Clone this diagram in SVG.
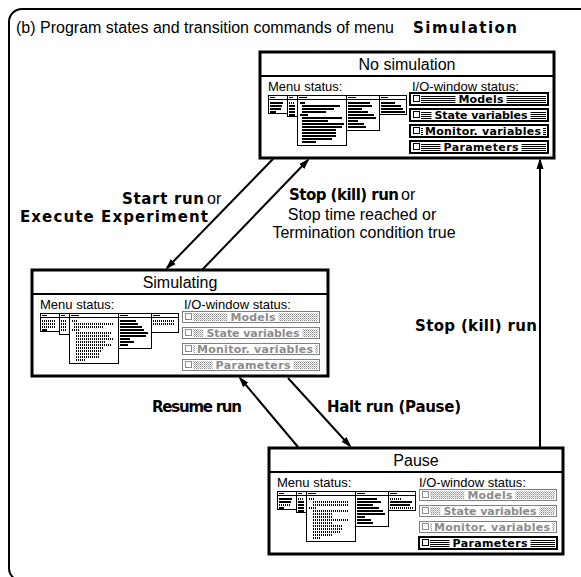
<svg xmlns="http://www.w3.org/2000/svg" width="581" height="577" viewBox="0 0 581 577">
<style>
.frame{fill:none;stroke:#000;stroke-width:2}
.box{fill:#fff;stroke:#000;stroke-width:3}
.div{stroke:#000;stroke-width:2}
.title{font-family:"Liberation Sans",Arial,sans-serif;font-size:16px;text-anchor:middle}
.sub{font-family:"Liberation Sans",Arial,sans-serif;font-size:13px}
.win{fill:#fff;stroke:#000;stroke-width:1}
.bar{fill:none;stroke:#000;stroke-width:2}
.dot{fill:none;stroke:#000;stroke-width:2;stroke-dasharray:1 1}
.on{fill:#fff;stroke:#000;stroke-width:2}
.off{fill:#fff;stroke:#000;stroke-width:1;stroke-dasharray:1 1}
.str{fill:url(#stripes)}
.dit{fill:url(#dither)}
.bg{fill:#fff}
.bt{font-family:"DejaVu Sans",Verdana,sans-serif;font-weight:bold;font-size:11px;text-anchor:middle}
.g{fill:#8c8c8c}
.cb{fill:#fff;stroke:#000;stroke-width:1}
.cbg{fill:#fff;stroke:#8c8c8c;stroke-width:1}
.conn{stroke:#000;stroke-width:2;fill:none;marker-end:url(#ah)}
.lb{font-family:"DejaVu Sans",Verdana,sans-serif;font-weight:bold;font-size:15px}
.lr{font-family:"Liberation Sans",Arial,sans-serif;font-size:16px}
</style>
<defs>
<marker id="ah" markerUnits="userSpaceOnUse" markerWidth="11" markerHeight="8" refX="9" refY="4" orient="auto"><path d="M0,0.5 L11,4 L0,7.5 z" fill="#000"/></marker>
<pattern id="stripes" width="2" height="2" patternUnits="userSpaceOnUse"><rect width="2" height="1" fill="#000"/></pattern>
<pattern id="dither" width="2" height="2" patternUnits="userSpaceOnUse"><rect width="1" height="1" fill="#888"/><rect x="1" y="1" width="1" height="1" fill="#bbb"/></pattern>
<g id="wins">
<rect class="win" x="8.5" y="43.5" width="19" height="18"/>
<rect class="win" x="27.5" y="43.5" width="10" height="21"/>
<rect class="win" x="37.5" y="43.5" width="49" height="50"/>
<rect class="win" x="86.5" y="43.5" width="33" height="35"/>
<rect class="win" x="119.5" y="43.5" width="27" height="19"/>
<path d="M8.5 47.5H146.5M10 45.5h5M29 45.5h4M39 45.5h8M88 45.5h8M121 45.5h7" stroke="#000" fill="none"/>
</g>
</defs>

<rect class="frame" x="9" y="9" width="600" height="572" rx="13"/>
<text x="16" y="33" class="lr">(b) Program states and transition commands of menu</text>
<text x="413" y="33" class="lb" font-size="16" textLength="104" lengthAdjust="spacing">Simulation</text>

<g id="connectors">
<line class="conn" x1="273" y1="159" x2="167" y2="268"/>
<line class="conn" x1="202" y1="270" x2="308" y2="160"/>
<line class="conn" x1="288" y1="378" x2="350" y2="446"/>
<line class="conn" x1="298" y1="447" x2="240" y2="378"/>
<line class="conn" x1="540" y1="447" x2="540" y2="160"/>
</g>

<g id="labels">
<text x="122" y="204" class="lb" textLength="82" lengthAdjust="spacing">Start run</text>
<text x="207" y="204" class="lr">or</text>
<text x="20" y="222" class="lb" textLength="188" lengthAdjust="spacing">Execute Experiment</text>
<text x="289" y="200" class="lb" textLength="110" lengthAdjust="spacing">Stop (kill) run</text>
<text x="401" y="200" class="lr">or</text>
<text x="362" y="220" class="lr" text-anchor="middle">Stop time reached or</text>
<text x="364" y="238" class="lr" text-anchor="middle">Termination condition true</text>
<text x="415" y="331" class="lb" textLength="122" lengthAdjust="spacing">Stop (kill) run</text>
<text x="152" y="412" class="lb" textLength="90" lengthAdjust="spacing">Resume run</text>
<text x="327" y="412" class="lb" textLength="134" lengthAdjust="spacing">Halt run (Pause)</text>
</g>

<g id="no-simulation" transform="translate(260,52)">
<rect class="box" x="0" y="0" width="294" height="106"/>
<line class="div" x1="0" y1="24" x2="294" y2="24"/>
<text class="title" x="147" y="18">No simulation</text>
<text class="sub" x="8" y="39">Menu status:</text>
<text class="sub" x="152" y="39">I/O-window status:</text>
<use href="#wins"/>
<path class="bar" d="M10 51h13M10 54h12M10 57h11M10 60h6M29 54h6M29 57h6M29 60h6M29 63h6M40 51h5M42 54h38M42 57h32M42 60h24M40 63h8M42 66h40M42 69h26M42 72h42M42 75h40M42 78h34M42 81h34M42 84h34M42 87h30M42 90h14M88 51h22M88 54h24M88 57h14M88 60h20M88 63h26M88 66h28M88 69h10M88 72h16M88 75h18M121 51h14M121 54h20M121 57h22M121 60h24"/>
<path class="dot" d="M29 51h6"/>
<g>
<rect class="on" x="150" y="41" width="138" height="12"/>
<rect class="str" x="161" y="43" width="125" height="8"/>
<rect class="bg" x="195.5" y="42" width="51" height="10"/>
<text class="bt" x="221" y="51" textLength="45" lengthAdjust="spacing">Models</text>
<rect class="cb" x="153.5" y="43.5" width="6" height="6"/>
</g>
<g>
<rect class="on" x="150" y="57" width="138" height="12"/>
<rect class="str" x="161" y="59" width="125" height="8"/>
<rect class="bg" x="171.5" y="58" width="99" height="10"/>
<text class="bt" x="221" y="67" textLength="93" lengthAdjust="spacing">State variables</text>
<rect class="cb" x="153.5" y="59.5" width="6" height="6"/>
</g>
<g>
<rect class="on" x="150" y="73" width="138" height="12"/>
<rect class="str" x="161" y="75" width="125" height="8"/>
<rect class="bg" x="163" y="74" width="120" height="10"/>
<text class="bt" x="223" y="83" textLength="116" lengthAdjust="spacing">Monitor. variables</text>
<rect class="cb" x="153.5" y="75.5" width="6" height="6"/>
</g>
<g>
<rect class="on" x="150" y="89" width="138" height="12"/>
<rect class="str" x="161" y="91" width="125" height="8"/>
<rect class="bg" x="180.5" y="90" width="81" height="10"/>
<text class="bt" x="221" y="99" textLength="75" lengthAdjust="spacing">Parameters</text>
<rect class="cb" x="153.5" y="91.5" width="6" height="6"/>
</g>
</g>

<g id="simulating" transform="translate(32,270)">
<rect class="box" x="0" y="0" width="296" height="106"/>
<line class="div" x1="0" y1="24" x2="296" y2="24"/>
<text class="title" x="148" y="18">Simulating</text>
<text class="sub" x="8" y="39">Menu status:</text>
<text class="sub" x="152" y="39">I/O-window status:</text>
<use href="#wins"/>
<path class="dot" d="M10 51h13M10 54h13M10 57h13M29 51h6M29 54h6M29 57h6M29 60h6M40 51h6M42 54h40M42 57h30M40 60h8M44 63h36M44 66h34M44 69h38M44 72h30M44 75h36M44 78h28M44 81h26M44 84h24M44 87h24M44 90h10M121 51h22M121 54h22"/>
<path class="bar" d="M10 60h5M88 51h16M88 54h18M88 57h22M88 60h24M88 63h28M88 66h26M88 69h10M88 72h14M88 75h8"/>
<g>
<rect class="off" x="150.5" y="41.5" width="137" height="11"/>
<rect class="dit" x="161" y="43" width="125" height="8"/>
<rect class="bg" x="195.5" y="42" width="51" height="10"/>
<text class="bt g" x="221" y="51" textLength="45" lengthAdjust="spacing">Models</text>
<rect class="cbg" x="153.5" y="43.5" width="6" height="6"/>
</g>
<g>
<rect class="off" x="150.5" y="57.5" width="137" height="11"/>
<rect class="dit" x="161" y="59" width="125" height="8"/>
<rect class="bg" x="171.5" y="58" width="99" height="10"/>
<text class="bt g" x="221" y="67" textLength="93" lengthAdjust="spacing">State variables</text>
<rect class="cbg" x="153.5" y="59.5" width="6" height="6"/>
</g>
<g>
<rect class="off" x="150.5" y="73.5" width="137" height="11"/>
<rect class="dit" x="161" y="75" width="125" height="8"/>
<rect class="bg" x="163" y="74" width="120" height="10"/>
<text class="bt g" x="223" y="83" textLength="116" lengthAdjust="spacing">Monitor. variables</text>
<rect class="cbg" x="153.5" y="75.5" width="6" height="6"/>
</g>
<g>
<rect class="off" x="150.5" y="89.5" width="137" height="11"/>
<rect class="dit" x="161" y="91" width="125" height="8"/>
<rect class="bg" x="180.5" y="90" width="81" height="10"/>
<text class="bt g" x="221" y="99" textLength="75" lengthAdjust="spacing">Parameters</text>
<rect class="cbg" x="153.5" y="91.5" width="6" height="6"/>
</g>
</g>

<g id="pause" transform="translate(269,448)">
<rect class="box" x="0" y="0" width="294" height="106"/>
<line class="div" x1="0" y1="24" x2="294" y2="24"/>
<text class="title" x="147" y="18">Pause</text>
<text class="sub" x="8" y="39">Menu status:</text>
<text class="sub" x="150" y="39">I/O-window status:</text>
<use href="#wins"/>
<path class="bar" d="M10 51h13M10 54h12M10 60h5M29 54h6M29 57h6M29 60h6M29 63h6M88 51h20M88 54h24M88 57h16M88 60h22M88 63h26M88 66h28M88 69h8M88 72h14M88 75h16M121 54h22M121 57h20"/>
<path class="dot" d="M10 57h12M29 51h6M40 51h6M44 54h36M44 57h36M40 60h8M44 63h36M44 66h20M44 69h20M44 72h36M44 75h20M44 78h30M44 81h30M44 84h28M44 87h20M44 90h8M121 51h12M121 60h24"/>
<g>
<rect class="off" x="150.5" y="41.5" width="137" height="11"/>
<rect class="dit" x="161" y="43" width="125" height="8"/>
<rect class="bg" x="195.5" y="42" width="51" height="10"/>
<text class="bt g" x="221" y="51" textLength="45" lengthAdjust="spacing">Models</text>
<rect class="cbg" x="153.5" y="43.5" width="6" height="6"/>
</g>
<g>
<rect class="off" x="150.5" y="57.5" width="137" height="11"/>
<rect class="dit" x="161" y="59" width="125" height="8"/>
<rect class="bg" x="171.5" y="58" width="99" height="10"/>
<text class="bt g" x="221" y="67" textLength="93" lengthAdjust="spacing">State variables</text>
<rect class="cbg" x="153.5" y="59.5" width="6" height="6"/>
</g>
<g>
<rect class="off" x="150.5" y="73.5" width="137" height="11"/>
<rect class="dit" x="161" y="75" width="125" height="8"/>
<rect class="bg" x="163" y="74" width="120" height="10"/>
<text class="bt g" x="223" y="83" textLength="116" lengthAdjust="spacing">Monitor. variables</text>
<rect class="cbg" x="153.5" y="75.5" width="6" height="6"/>
</g>
<g>
<rect class="on" x="150" y="89" width="138" height="12"/>
<rect class="str" x="161" y="91" width="125" height="8"/>
<rect class="bg" x="180.5" y="90" width="81" height="10"/>
<text class="bt" x="221" y="99" textLength="75" lengthAdjust="spacing">Parameters</text>
<rect class="cb" x="153.5" y="91.5" width="6" height="6"/>
</g>
</g>
</svg>
